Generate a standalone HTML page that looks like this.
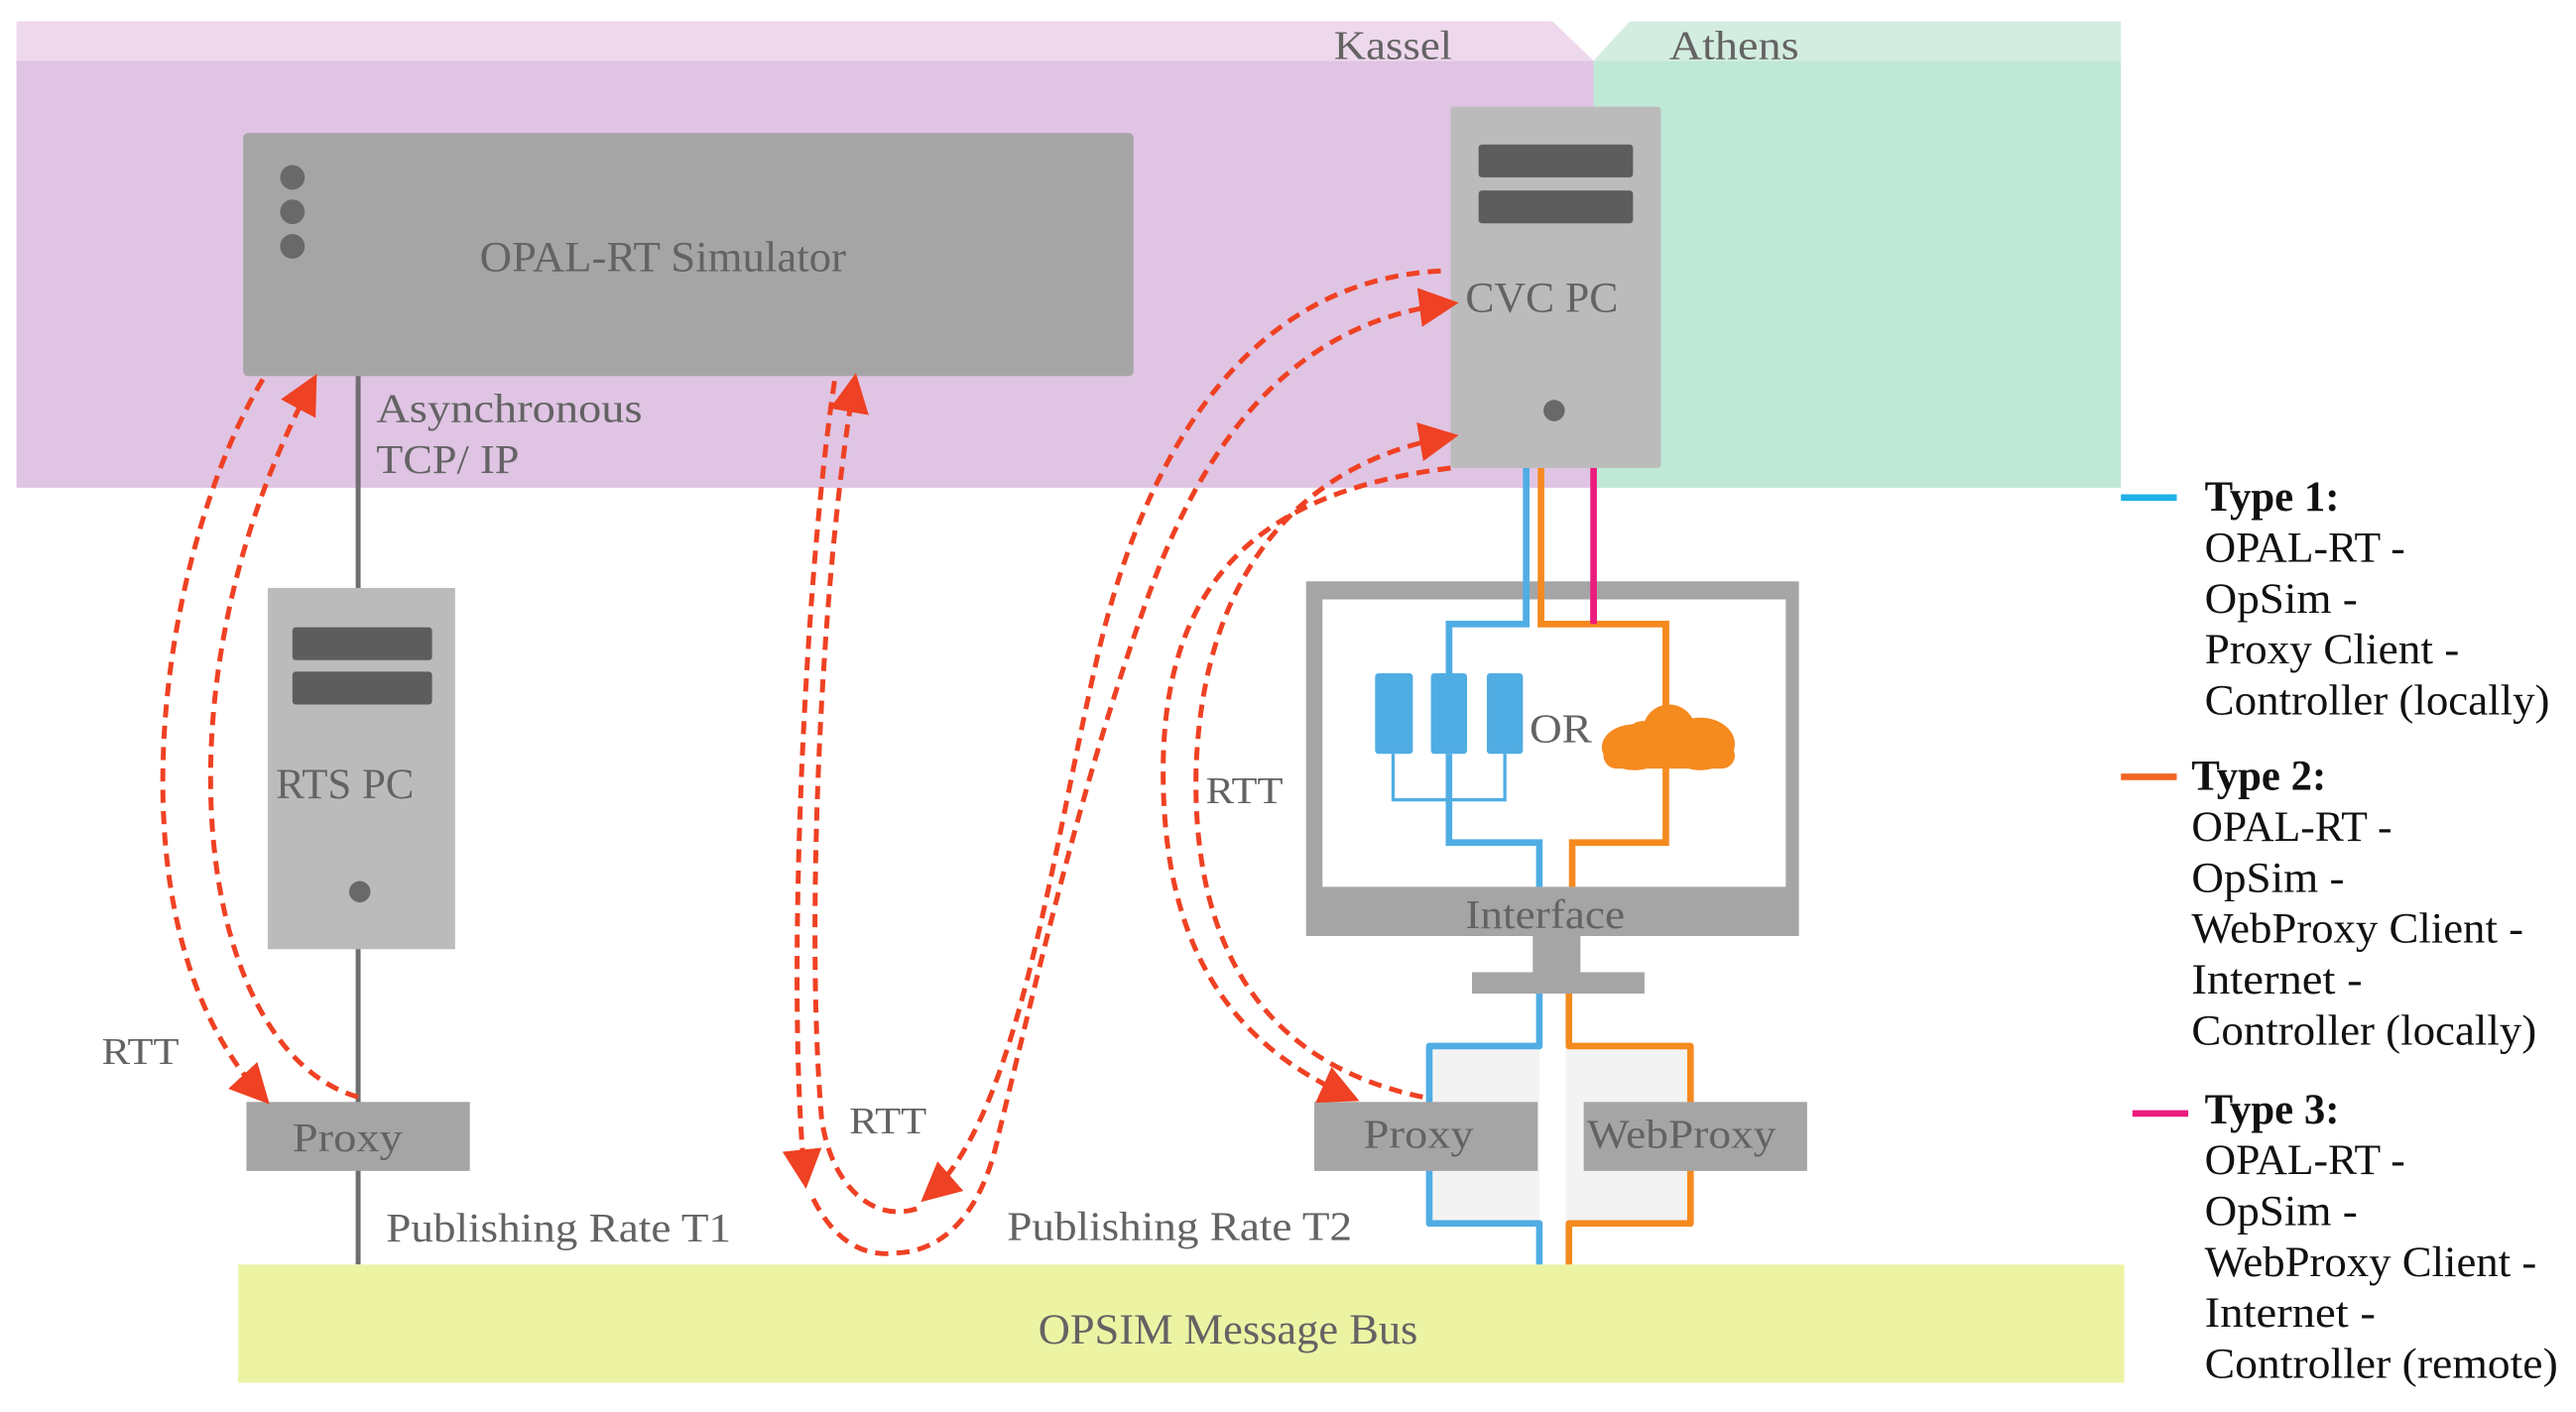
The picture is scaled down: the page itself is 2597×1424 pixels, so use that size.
<!DOCTYPE html>
<html><head><meta charset="utf-8"><style>
html,body{margin:0;padding:0;background:#fff}
svg{display:block}
text{font-family:"Liberation Serif",serif;fill:#646364}
</style></head><body>
<svg width="2597" height="1424" viewBox="0 0 1568 859.8" preserveAspectRatio="none" xmlns="http://www.w3.org/2000/svg">
<defs>
<marker id="ah" markerWidth="8" markerHeight="8" refX="6" refY="4" orient="auto" markerUnits="strokeWidth">
<path d="M0,0 L8,4 L0,8 z" fill="#ef4123"/></marker>
</defs>
<polygon points="10,13 945,13 970,37 10,37" fill="#eed8ec"/>
<polygon points="992,13 1291,13 1291,37 970,37" fill="#d3ede0"/>
<rect x="10" y="37" width="960" height="260" fill="#dfc4e3"/>
<rect x="970" y="37" width="321" height="260" fill="#bfe8d6"/>
<text x="812" y="36" font-size="25" textLength="72" lengthAdjust="spacingAndGlyphs">Kassel</text>
<text x="1016" y="36" font-size="25" textLength="79" lengthAdjust="spacingAndGlyphs">Athens</text>
<rect x="148" y="81" width="542" height="148" rx="3" fill="#a6a5a6"/>
<circle cx="178" cy="108" r="7.5" fill="#6a696a"/><circle cx="178" cy="129" r="7.5" fill="#6a696a"/><circle cx="178" cy="150" r="7.5" fill="#6a696a"/>
<text x="292" y="165" font-size="26" textLength="223" lengthAdjust="spacingAndGlyphs">OPAL-RT Simulator</text>
<rect x="883" y="65" width="128" height="220" rx="2" fill="#bbbbbb"/>
<rect x="900" y="88" width="94" height="20" rx="2" fill="#5e5d5e"/>
<rect x="900" y="116" width="94" height="20" rx="2" fill="#5e5d5e"/>
<circle cx="946" cy="250" r="6.5" fill="#6a696a"/>
<text x="892" y="190" font-size="26" textLength="93" lengthAdjust="spacingAndGlyphs">CVC PC</text>
<line x1="218" y1="229" x2="218" y2="770" stroke="#6f6e6f" stroke-width="3"/>
<text x="229" y="257" font-size="25" textLength="162" lengthAdjust="spacingAndGlyphs">Asynchronous</text>
<text x="229" y="288" font-size="25" textLength="87" lengthAdjust="spacingAndGlyphs">TCP/ IP</text>
<rect x="163" y="358" width="114" height="220" fill="#bbbbbb"/>
<rect x="178" y="382" width="85" height="20" rx="2" fill="#5e5d5e"/>
<rect x="178" y="409" width="85" height="20" rx="2" fill="#5e5d5e"/>
<text x="168" y="486" font-size="26" textLength="84" lengthAdjust="spacingAndGlyphs">RTS PC</text>
<circle cx="219" cy="543" r="6.5" fill="#6a696a"/>
<rect x="150" y="671" width="136" height="42" fill="#a6a5a6"/>
<text x="178" y="701" font-size="25" textLength="67" lengthAdjust="spacingAndGlyphs">Proxy</text>
<text x="62" y="648" font-size="23" textLength="47" lengthAdjust="spacingAndGlyphs">RTT</text>
<text x="235" y="756" font-size="25" textLength="210" lengthAdjust="spacingAndGlyphs">Publishing Rate T1</text>
<rect x="145" y="770" width="1148" height="72" fill="#ecf4a4"/>
<text x="632" y="818" font-size="26" textLength="231" lengthAdjust="spacingAndGlyphs">OPSIM Message Bus</text>
<text x="517" y="690" font-size="23" textLength="47" lengthAdjust="spacingAndGlyphs">RTT</text>
<text x="613" y="755" font-size="25" textLength="210" lengthAdjust="spacingAndGlyphs">Publishing Rate T2</text>
<text x="734" y="489" font-size="23" textLength="47" lengthAdjust="spacingAndGlyphs">RTT</text>
<rect x="868" y="637" width="69" height="108" fill="#f3f3f3"/>
<rect x="953" y="637" width="77" height="108" fill="#f3f3f3"/>
<polyline points="929,285 929,380 882,380 882,410" fill="none" stroke="#50ade4" stroke-width="4"/>
<polyline points="938,285 938,380 1014,380 1014,440" fill="none" stroke="#f58a1f" stroke-width="4"/>
<line x1="970" y1="285" x2="970" y2="380" stroke="#ec1a7d" stroke-width="4"/>
<path d="M795,354 H1095 V570 H795 Z M805,365 V540 H1087 V365 Z" fill="#a6a5a6" fill-rule="evenodd"/>
<polyline points="929,354 929,380 882,380 882,410" fill="none" stroke="#50ade4" stroke-width="4"/>
<polyline points="938,354 938,380 1014,380 1014,440" fill="none" stroke="#f58a1f" stroke-width="4"/>
<line x1="970" y1="354" x2="970" y2="380" stroke="#ec1a7d" stroke-width="4"/>
<rect x="837" y="410" width="23" height="49" rx="2" fill="#50ade4"/>
<rect x="871" y="410" width="22" height="49" rx="2" fill="#50ade4"/>
<rect x="905" y="410" width="22" height="49" rx="2" fill="#50ade4"/>
<polyline points="848,459 848,487 916,487 916,459" fill="none" stroke="#50ade4" stroke-width="2"/>
<polyline points="882,459 882,513 937,513 937,540" fill="none" stroke="#50ade4" stroke-width="4"/>
<polyline points="1014,460 1014,513 957,513 957,540" fill="none" stroke="#f58a1f" stroke-width="4"/>
<g fill="#f58a1f">
<ellipse cx="995" cy="455" rx="20" ry="14"/>
<ellipse cx="1035" cy="453" rx="21" ry="16"/>
<circle cx="1016" cy="445" r="16"/>
<circle cx="1000" cy="450" r="11"/>
<rect x="976" y="452" width="80" height="16" rx="8"/>
</g>
<text x="931" y="452" font-size="25" textLength="38" lengthAdjust="spacingAndGlyphs">OR</text>
<text x="892" y="565" font-size="25" textLength="97" lengthAdjust="spacingAndGlyphs">Interface</text>
<rect x="933" y="570" width="29" height="22" fill="#a6a5a6"/>
<rect x="896" y="592" width="105" height="13" fill="#a6a5a6"/>
<polyline points="937,605 937,637 870,637 870,745 937,745 937,770" fill="none" stroke="#50ade4" stroke-width="4" stroke-linejoin="round"/>
<polyline points="955,605 955,637 1029,637 1029,745 955,745 955,770" fill="none" stroke="#f58a1f" stroke-width="4" stroke-linejoin="round"/>
<rect x="800" y="671" width="136" height="42" fill="#a6a5a6"/>
<text x="830" y="699" font-size="25" textLength="67" lengthAdjust="spacingAndGlyphs">Proxy</text>
<rect x="964" y="671" width="136" height="42" fill="#a6a5a6"/>
<text x="966" y="699" font-size="25" textLength="115" lengthAdjust="spacingAndGlyphs">WebProxy</text>
<g fill="none" stroke="#ef4123" stroke-width="3" stroke-dasharray="8,5">
<path d="M160,231 C100,330 60,560 160,668" marker-end="url(#ah)"/>
<path d="M218,668 C120,640 90,420 190,233" marker-end="url(#ah)"/>
<path d="M508,232 C490,350 478,600 490,718" marker-end="url(#ah)"/>
<path d="M495,730 C510,760 530,765 545,763 C580,762 600,730 608,690 C635,580 660,470 700,360 C740,250 800,195 882,185" marker-end="url(#ah)"/>
<path d="M877,165 C770,170 700,260 668,400 C640,520 620,680 565,728" marker-end="url(#ah)"/>
<path d="M558,736 C530,745 505,720 500,680 C490,560 500,350 520,233" marker-end="url(#ah)"/>
<path d="M883,285 C760,300 708,360 708,470 C708,590 760,640 822,668" marker-end="url(#ah)"/>
<path d="M866,668 C780,650 726,590 728,470 C732,340 800,280 882,266" marker-end="url(#ah)"/>
</g>
<line x1="1291" y1="303" x2="1325" y2="303" stroke="#1fb1e6" stroke-width="4"/>
<line x1="1291" y1="473" x2="1325" y2="473" stroke="#f26522" stroke-width="4"/>
<line x1="1298" y1="678" x2="1332" y2="678" stroke="#ec1a7d" stroke-width="4"/>
<g font-size="26">
<text x="1342" y="311" font-weight="bold" style="fill:#111" textLength="82" lengthAdjust="spacingAndGlyphs">Type 1:</text>
<text x="1342" y="342" style="fill:#111" textLength="122" lengthAdjust="spacingAndGlyphs">OPAL-RT -</text>
<text x="1342" y="373" style="fill:#111" textLength="93" lengthAdjust="spacingAndGlyphs">OpSim -</text>
<text x="1342" y="404" style="fill:#111" textLength="155" lengthAdjust="spacingAndGlyphs">Proxy Client -</text>
<text x="1342" y="435" style="fill:#111" textLength="210" lengthAdjust="spacingAndGlyphs">Controller (locally)</text>
<text x="1334" y="481" font-weight="bold" style="fill:#111" textLength="82" lengthAdjust="spacingAndGlyphs">Type 2:</text>
<text x="1334" y="512" style="fill:#111" textLength="122" lengthAdjust="spacingAndGlyphs">OPAL-RT -</text>
<text x="1334" y="543" style="fill:#111" textLength="93" lengthAdjust="spacingAndGlyphs">OpSim -</text>
<text x="1334" y="574" style="fill:#111" textLength="202" lengthAdjust="spacingAndGlyphs">WebProxy Client -</text>
<text x="1334" y="605" style="fill:#111" textLength="104" lengthAdjust="spacingAndGlyphs">Internet -</text>
<text x="1334" y="636" style="fill:#111" textLength="210" lengthAdjust="spacingAndGlyphs">Controller (locally)</text>
<text x="1342" y="684" font-weight="bold" style="fill:#111" textLength="82" lengthAdjust="spacingAndGlyphs">Type 3:</text>
<text x="1342" y="715" style="fill:#111" textLength="122" lengthAdjust="spacingAndGlyphs">OPAL-RT -</text>
<text x="1342" y="746" style="fill:#111" textLength="93" lengthAdjust="spacingAndGlyphs">OpSim -</text>
<text x="1342" y="777" style="fill:#111" textLength="202" lengthAdjust="spacingAndGlyphs">WebProxy Client -</text>
<text x="1342" y="808" style="fill:#111" textLength="104" lengthAdjust="spacingAndGlyphs">Internet -</text>
<text x="1342" y="839" style="fill:#111" textLength="215" lengthAdjust="spacingAndGlyphs">Controller (remote)</text>
</g>
</svg>
</body></html>
